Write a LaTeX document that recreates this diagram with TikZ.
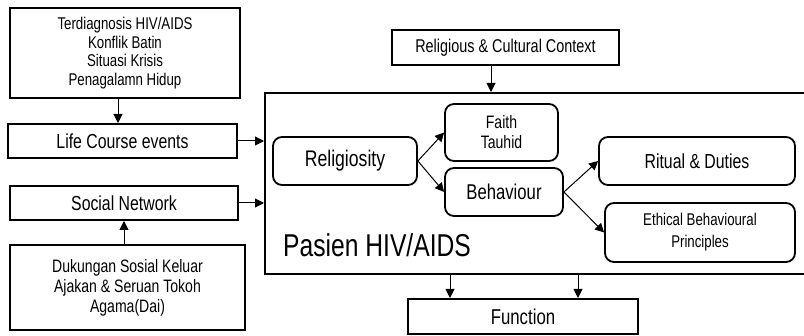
\documentclass[tikz,border=0pt]{standalone}
\usepackage{fontspec}
\setmainfont{Liberation Sans}[FakeStretch=0.78]
\usetikzlibrary{arrows.meta}
\begin{document}
\begin{tikzpicture}[x=1pt,y=-1pt,
  box/.style={draw,line width=2pt,inner sep=0pt,align=center},
  rbox/.style={draw,line width=1.8pt,rounded corners=9pt,inner sep=0pt,align=center},
  arr/.style={line width=1pt,-{Triangle[width=9pt,length=9pt]}}]
\clip (0,0) rectangle (804,336);
\node [box,minimum width=230,minimum height=90,font=\fontsize{17}{18.5}\selectfont] (events) at (125,53) {Terdiagnosis HIV/AIDS\\Konflik Batin\\Situasi Krisis\\Penagalamn Hidup};
\node [box,minimum width=229,minimum height=34,font=\fontsize{20.3}{22}\selectfont] (life) at (122.5,141) {Life Course events};
\node [box,minimum width=228,minimum height=34,font=\fontsize{20.3}{22}\selectfont] (social) at (124,203) {Social Network};
\node [box,minimum width=235,minimum height=85,font=\fontsize{18}{20}\selectfont] (support) at (127.5,287.5) {Dukungan Sosial Keluar\\Ajakan \& Seruan Tokoh\\Agama(Dai)};
\node [box,minimum width=227,minimum height=35,font=\fontsize{18.5}{20}\selectfont] (context) at (505.5,47.5) {Religious \& Cultural Context};
\node [box,minimum width=565,minimum height=181] (pasien) at (547.5,183.5) {};
\node [anchor=base west,inner sep=0pt,font=\fontsize{31.6}{33}\selectfont] (plabel) at (283,257) {Pasien HIV/AIDS};
\node [rbox,minimum width=144,minimum height=48,font=\fontsize{22.6}{24}\selectfont] (relig) at (345,161) {Religiosity};
\node [rbox,minimum width=113,minimum height=57,font=\fontsize{18}{20}\selectfont] (faith) at (501.5,132.5) {Faith\\Tauhid};
\node [rbox,minimum width=118,minimum height=48,font=\fontsize{21.4}{23}\selectfont] (behav) at (504,192) {Behaviour};
\node [rbox,minimum width=196,minimum height=48,font=\fontsize{20.3}{22}\selectfont] (ritual) at (697,161) {Ritual \& Duties};
\node [rbox,minimum width=190,minimum height=59,font=\fontsize{17}{22}\selectfont] (ethic) at (700,232.5) {Ethical Behavioural\\Principles};
\node [box,minimum width=230,minimum height=35,font=\fontsize{21.5}{22}\selectfont] (function) at (523,316.5) {Function};
\draw [arr] ([xshift=-7pt]events.south) -- ([xshift=-7pt]events.south |- life.north);
\draw [arr] (life.east) -- (life.east -| pasien.west);
\draw [arr] (social.east) -- (social.east -| pasien.west);
\draw [arr] (social.south |- support.north) -- (social.south);
\draw [arr] ([xshift=-14.5pt]context.south) -- ([xshift=-14.5pt]context.south |- pasien.north);
\draw [arr] (relig.east) -- (faith.west);
\draw [arr] (relig.east) -- (behav.west);
\draw [arr] (behav.east) -- (ritual.west);
\draw [arr] (behav.east) -- (ethic.west);
\foreach \x in {450,578}
  \draw [arr] (pasien.south -| \x,0) -- (function.north -| \x,0);
\end{tikzpicture}
\end{document}
